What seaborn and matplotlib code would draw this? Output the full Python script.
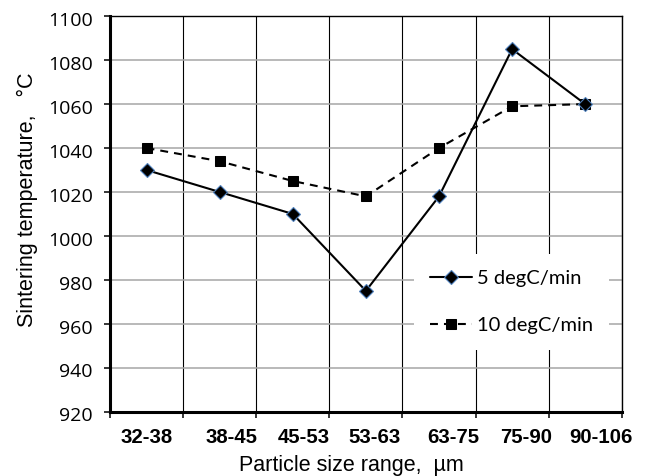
import numpy as np
import matplotlib
matplotlib.use("Agg")
import matplotlib.pyplot as plt
import seaborn as sns
from matplotlib.transforms import ScaledTranslation

# ---- data ----
categories = ["32-38", "38-45", "45-53", "53-63", "63-75", "75-90", "90-106"]
temp_5 = [1030, 1020, 1010, 975, 1018, 1085, 1060]
temp_10 = [1040, 1034, 1025, 1018, 1040, 1059, 1060]
y_ticks = [920, 940, 960, 980, 1000, 1020, 1040, 1060, 1080, 1100]
series_labels = ["5 degC/min", "10 degC/min"]

sns.set_theme(style="white")
plt.rcParams["font.family"] = ["Liberation Sans", "DejaVu Sans"]

fig, ax = plt.subplots(figsize=(6.47, 4.76), dpi=100)
fig.subplots_adjust(left=0.170, right=0.961, top=0.966, bottom=0.135)

x = np.arange(len(categories))
sns.lineplot(x=x, y=temp_5, ax=ax, color="black", lw=1.5, marker="D", ms=6.8,
             mfc="black", mec="#4F81BD", mew=0.8, zorder=4, label=series_labels[0])
sns.lineplot(x=x, y=temp_10, ax=ax, color="black", lw=1.5, marker="s", ms=7,
             mfc="black", mec="black", linestyle=(0, (3.8, 2.9)), zorder=3,
             label=series_labels[1])

ax.set_xlim(-0.5, len(categories) - 0.5)
ax.set_ylim(y_ticks[0], y_ticks[-1])
ax.set_yticks(y_ticks)
ax.set_xticks(x)
ax.set_xticklabels(categories)
ax.set_xticks(np.arange(-0.5, len(categories), 1.0), minor=True)

ax.set_axisbelow(True)
ax.yaxis.grid(True, color="#a6a6a6", lw=1.1)
ax.xaxis.grid(True, which="minor", color="black", lw=0.8)
ax.xaxis.grid(False, which="major")

for s in ax.spines.values():
    s.set_color("black")
    s.set_visible(True)
ax.spines["left"].set_linewidth(2.2)
ax.spines["bottom"].set_linewidth(2.2)
ax.spines["top"].set_linewidth(1.0)
ax.spines["right"].set_linewidth(1.0)

ax.tick_params(axis="x", which="major", length=0, pad=11.5, labelsize=14.7, colors="black")
ax.tick_params(axis="x", which="minor", length=4, width=1.1, direction="out",
               color="black", bottom=True)
ax.tick_params(axis="y", length=4.3, width=1.1, direction="out", left=True,
               pad=8, labelsize=14, colors="black")
for lbl in ax.get_xticklabels():
    lbl.set_fontweight("bold")
for lbl in ax.get_yticklabels():
    lbl.set_fontfamily(["Open Sans", "DejaVu Sans"])
    lbl.set_transform(lbl.get_transform() + ScaledTranslation(0, -2.7 / 100, fig.dpi_scale_trans))

dx_px = [0, 12, 11, 9, 14, 14, 16]
for lbl, dx in zip(ax.get_xticklabels(), dx_px):
    lbl.set_transform(lbl.get_transform() + ScaledTranslation(dx / 100, 0, fig.dpi_scale_trans))

ax.set_xlabel("Particle size range,  µm", fontsize=15.5, color="black")
ax.set_ylabel("Sintering temperature,   °C", fontsize=15.5, color="black")
ax.yaxis.label.set_verticalalignment("center")
ax.xaxis.label.set_verticalalignment("center")
ax.xaxis.set_label_coords(0.471, -0.136)
ax.yaxis.set_label_coords(-0.162, 0.535)

leg = ax.legend(loc="upper left", bbox_to_anchor=(0.594, 0.3985), borderaxespad=0,
                borderpad=0.8, frameon=True, framealpha=1, facecolor="white",
                edgecolor="none", fancybox=False, handlelength=2.07,
                handletextpad=0.25, labelspacing=1.45, numpoints=1,
                prop={"family": ["Lato", "DejaVu Sans"], "size": 14.5})
for t in leg.get_texts():
    t.set_color("black")

fig.savefig("out.png", dpi=100)
